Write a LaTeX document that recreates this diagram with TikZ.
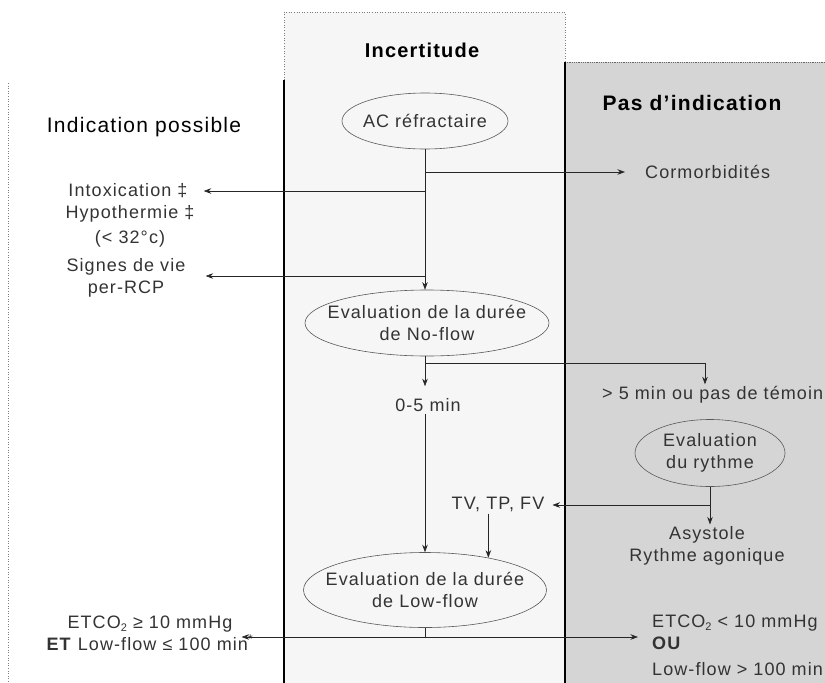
\documentclass[tikz,border=0pt]{standalone}
\usepackage{fontspec}
\setmainfont{Liberation Sans}[LetterSpace=6]
\usetikzlibrary{arrows.meta,shapes.geometric,calc}
\newcommand{\subtwo}{\raisebox{-0.35ex}{\fontsize{11}{11}\selectfont 2}}
\begin{document}
\begin{tikzpicture}[x=1pt,y=-1pt,
 txt/.style={font=\fontsize{18}{22}\selectfont, inner sep=2pt, align=center, text=black!80},
 ttl/.style={font=\fontsize{20}{24}\selectfont\bfseries, text=black},
 ell/.style={ellipse, draw=black!65, line width=0.6pt},
 arr/.style={-{Stealth[length=7.5pt,width=5.5pt]}, line width=0.6pt, draw=black!85},
 ln/.style={line width=0.6pt, draw=black!85},
]
\useasboundingbox (0,0) rectangle (825,683);
% panels
\fill[gray!7] (284,12) rectangle (565,683);
\fill[gray!33] (565,62) rectangle (830,683);
\draw[dotted, gray, line width=0.6pt] (284,80) -- (284,12) -- (565,12) -- (565,62);
\draw[densely dotted, black!60, line width=0.8pt] (565,62) -- (825,62);
\draw[dotted, gray, line width=0.6pt] (8,83) -- (8,683);
\draw[line width=1.4pt] (284,80) -- (284,683);
\draw[line width=1.4pt] (565,62) -- (565,683);

% titles
\node[ttl] (tinc) at (422,50) {Incertitude};
\node[ttl, font=\fontsize{21}{24}\selectfont\bfseries] (tpas) at (692,103) {Pas d’indication};
\node[txt, font=\fontsize{21}{24}\selectfont, text=black] (tind) at (144,127) {Indication possible};

% nodes
\node[ell, minimum width=166pt, minimum height=56pt, label={[txt]center:AC réfractaire}] (ac) at (425,121) {};
\node[txt, anchor=west] (como) at (643,172) {Cormorbidités};
\node[txt] (intox) at (128,191) {Intoxication ‡};
\node[txt] (hypo) at (130,226) {Hypothermie ‡\\[3pt](< 32°c)};
\node[txt] (signes) at (126,278) {Signes de vie\\per-RCP};
\node[ell, minimum width=244pt, minimum height=66pt, label={[txt]center:Evaluation de la durée\\de No-flow}] (noflow) at (427,323) {};
\node[txt] (min05) at (428,405) {0-5 min};
\node[txt, anchor=west] (gt5) at (600,395) {> 5 min ou pas de témoin};
\node[ell, minimum width=150pt, minimum height=67pt, label={[txt]center:Evaluation\\du rythme}] (rythme) at (710,453) {};
\node[txt] (asys) at (707,546) {Asystole\\Rythme agonique};
\node[txt] (tv) at (498,504) {TV, TP, FV};
\node[ell, minimum width=243pt, minimum height=75pt, label={[txt]center:Evaluation de la durée\\de Low-flow}] (lowflow) at (425,590) {};
\node[txt] (leftres) at (150,633) {ETCO\subtwo{} ≥ 10 mmHg\\\textbf{ET} Low-flow ≤ 100 min\textsuperscript{*}};
\node[txt, anchor=west, align=left] (rightres) at (650,645) {ETCO\subtwo{} < 10 mmHg\\\textbf{OU}\\[4pt]Low-flow > 100 min};

% junctions
\coordinate (jC) at (425,172);
\coordinate (jI) at (425,191);
\coordinate (jS) at (425,276);
\coordinate (jN) at (425,363);
\coordinate (jN2) at (705,363);
\coordinate (jR) at (710,505);
\coordinate (jL) at (425,637);

% connectors
\draw[arr] (ac.south) -- (ac.south |- noflow.north);
\draw[arr] (jC) -- ($(como.west)+(-18,0)$);
\draw[arr] (jI) -- ($(intox.east)+(14,0)$);
\draw[arr] (jS) -- ($(jS -| signes.east)+(18,0)$);
\draw[arr, shorten >=10pt] (noflow.south -| jN) -- (jN |- min05.north);
\draw[ln] (jN) -- (jN2);
\draw[arr] (jN2) -- (jN2 |- gt5.north);
\draw[arr] (rythme.south) -- (rythme.south |- asys.north);
\draw[arr] (jR) -- ($(jR -| tv.east)+(6,0)$);
\draw[arr] (tv.south -| lowflow.27) -- (lowflow.27);
\draw[arr] (min05.south -| lowflow.north) -- (lowflow.north);
\draw[ln] (lowflow.south) -- (jL);
\draw[arr] (jL) -- ($(jL -| leftres.east)+(-14,0)$);
\draw[arr] (jL) -- ($(jL -| rightres.west)+(-12,0)$);
\end{tikzpicture}
\end{document}
